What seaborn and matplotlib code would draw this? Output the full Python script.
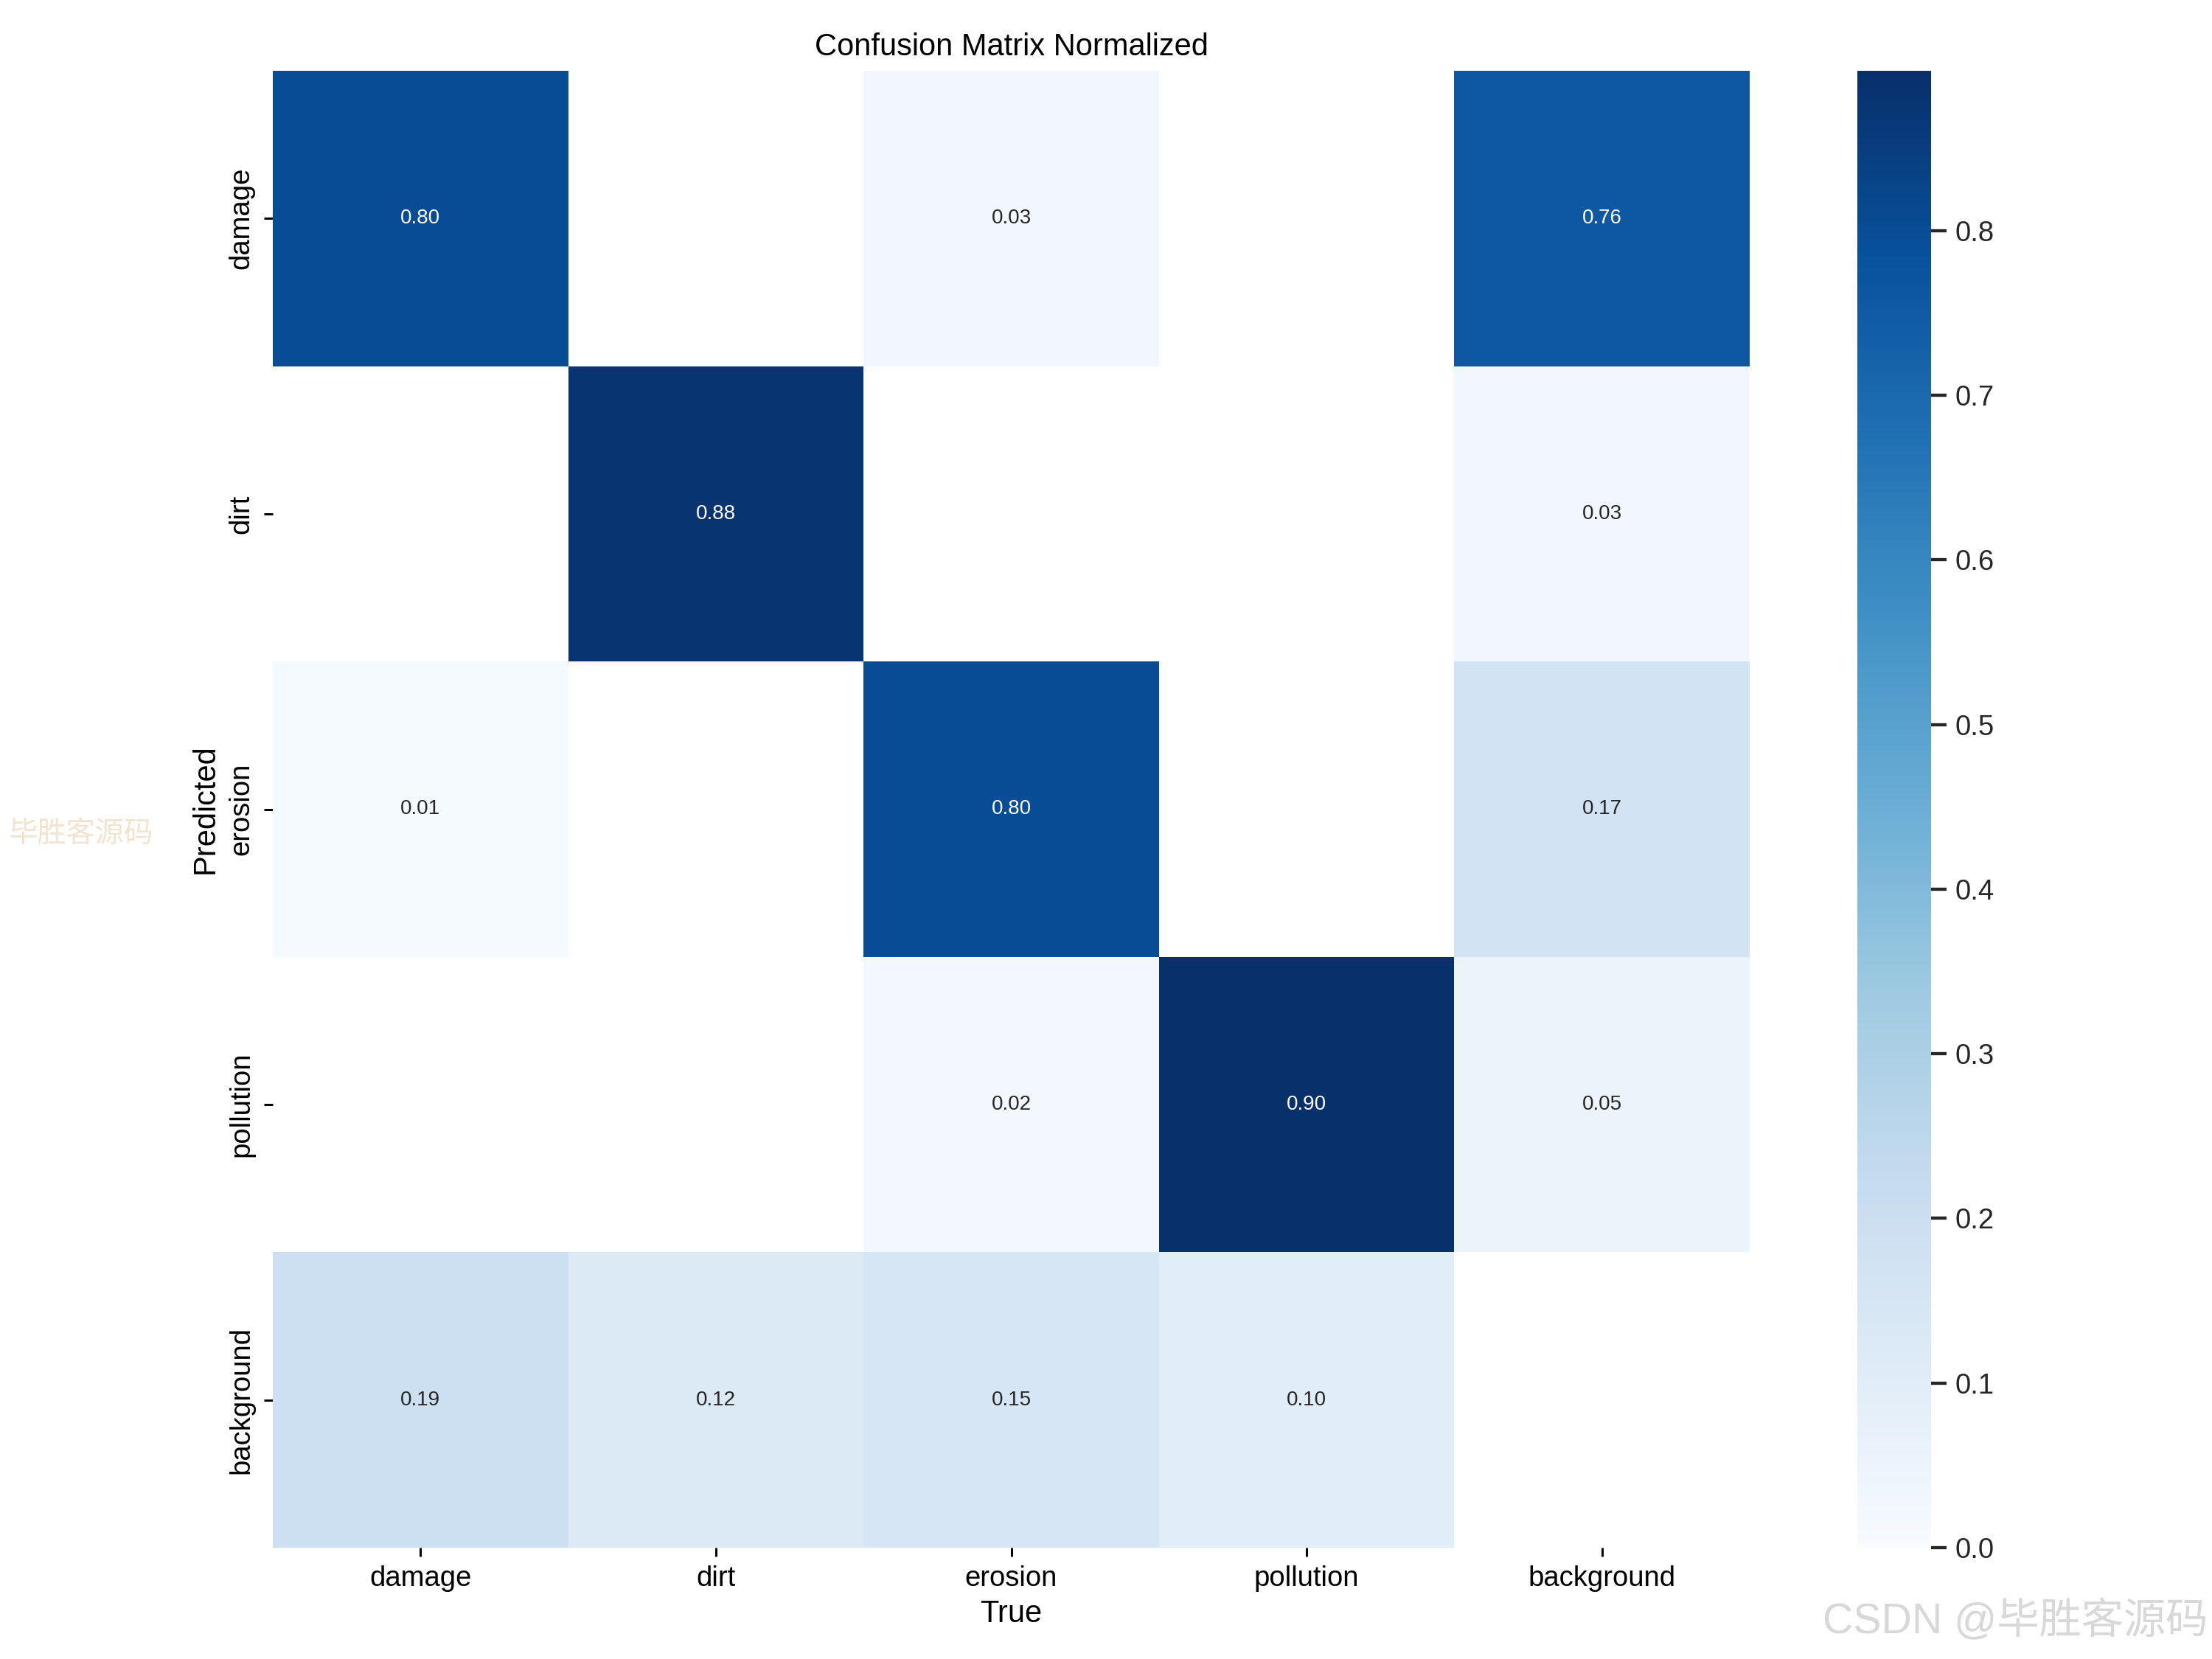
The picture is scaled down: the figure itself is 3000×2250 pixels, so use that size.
import numpy as np
import pandas as pd
import matplotlib
matplotlib.use("Agg")
import matplotlib.pyplot as plt
import seaborn as sns

# Confusion matrix values (rows = predicted, cols = true), nan = empty cell
names = ['damage', 'dirt', 'erosion', 'pollution', 'background']
row_damage = [0.80, np.nan, 0.03, np.nan, 0.76]
row_dirt = [np.nan, 0.88, np.nan, np.nan, 0.03]
row_erosion = [0.01, np.nan, 0.80, np.nan, 0.17]
row_pollution = [np.nan, np.nan, 0.02, 0.897, 0.05]
row_background = [0.19, 0.12, 0.15, 0.10, np.nan]

cm = pd.DataFrame([row_damage, row_dirt, row_erosion, row_pollution, row_background],
                  index=names, columns=names)

sns.set_theme(style="ticks", font_scale=1.0,
              rc={'xtick.major.size': 3.5, 'ytick.major.size': 3.5,
                  'xtick.major.width': 0.85, 'ytick.major.width': 0.85,
                  'text.color': 'black', 'axes.labelcolor': 'black',
                  'xtick.color': 'black', 'ytick.color': 'black'})
plt.rcParams['font.family'] = ['Liberation Sans', 'Noto Sans CJK SC', 'DejaVu Sans']

W, H = 3000, 2250
fig = plt.figure(figsize=(12, 9))
ax = fig.add_axes([370 / W, 151 / H, 2003 / W, 2003 / H])
cax = fig.add_axes([2519 / W, 151 / H, 100 / W, 2003 / H])

sns.heatmap(cm, ax=ax, cbar_ax=cax, annot=True, annot_kws={"size": 8}, cmap='Blues', fmt='.2f',
            square=True, vmin=0.0, xticklabels=names, yticklabels=names).set_facecolor((1, 1, 1))
ax.set_xlabel('True', labelpad=2.8)
ax.set_ylabel('Predicted', labelpad=3.2)
ax.set_title('Confusion Matrix Normalized')
cax.tick_params(length=6, width=1.25, color='#262626', labelcolor='#262626')

# watermarks
fig.text(0.004, 0.497, '毕胜客源码', fontsize=11.3, color='#F3E4CF',
         family=['Noto Sans CJK SC'], ha='left', va='center')
fig.text(0.998, 0.023, 'CSDN @毕胜客源码', fontsize=16.5, color='#D8D8D8',
         family=['Liberation Sans', 'Noto Sans CJK SC'], ha='right', va='center')

fig.savefig('out.png', dpi=250)
